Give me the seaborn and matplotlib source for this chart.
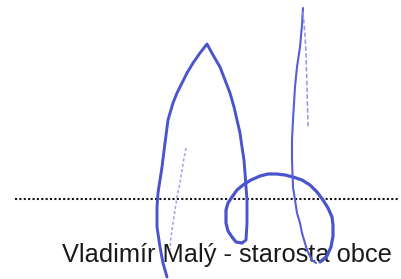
import pandas as pd
import matplotlib.pyplot as plt
import seaborn as sns

# pixel coordinates read from the scanned signature (y grows downward)
arch_x = [167, 163, 160, 157, 157, 158, 160, 162, 165, 168, 173, 177, 182, 187,
          193, 200, 207, 213, 220, 225, 230, 234, 237, 240, 242, 244, 245, 246,
          247, 247, 247, 246, 242]
arch_y = [277, 263, 247, 227, 207, 193, 180, 167, 143, 120, 103, 93, 83, 73,
          63, 53, 44, 55, 67, 80, 93, 107, 120, 133, 147, 160, 173, 187,
          200, 212, 223, 240, 243]

loop_x = [242, 236, 232, 228, 226, 226, 228, 232, 237, 243, 251, 260, 268, 277,
          285, 293, 302, 310, 317, 323, 328, 332, 333, 333, 331, 327, 320]
loop_y = [243, 242, 237, 231, 223, 210, 203, 197, 190, 185, 180, 176, 174, 174,
          175, 177, 180, 185, 192, 200, 208, 217, 225, 236, 247, 256, 262]

tall_x = [303, 302, 300, 297, 295, 293, 292, 292, 293, 295, 297, 300, 302, 307,
          312, 316]
tall_y = [8, 25, 47, 67, 87, 120, 140, 160, 187, 200, 213, 223, 233, 250,
          260, 263]

ghost_x = [303, 305, 306, 307, 308]
ghost_y = [12, 35, 53, 87, 127]

faint_x = [186, 184, 182, 180, 177, 175, 173, 171, 170]
faint_y = [148, 158, 170, 183, 197, 210, 223, 237, 250]

line_x = [15, 399]
line_y = [199, 199]

caption = "Vladimír Malý - starosta obce"

sns.set_style("white")
plt.rcParams['font.family'] = ['Liberation Sans', 'DejaVu Sans']

fig = plt.figure(figsize=(4.02, 2.79), dpi=100)
ax = fig.add_axes([0, 0, 1, 1])

ink = "#4a54cc"
sns.lineplot(x=arch_x, y=arch_y, sort=False, estimator=None, color=ink, lw=2.1, ax=ax)
sns.lineplot(x=loop_x, y=loop_y, sort=False, estimator=None, color=ink, lw=2.3, ax=ax)
sns.lineplot(x=tall_x, y=tall_y, sort=False, estimator=None, color="#5560d6", lw=1.5, ax=ax)
sns.lineplot(x=ghost_x, y=ghost_y, sort=False, estimator=None, color="#8f97e6",
             lw=1.1, linestyle=(0, (3, 1.5)), ax=ax)
sns.lineplot(x=faint_x, y=faint_y, sort=False, estimator=None, color="#9aa2ec",
             lw=1.1, linestyle=(0, (2, 1.5)), ax=ax)

# dotted signature line
ax.plot(line_x, line_y, color="#111111", lw=1.5, linestyle=(0, (1, 1.1)), zorder=1)

ax.text(62, 262, caption, fontsize=18.3, color="#1a1a1a", ha="left",
        va="baseline", zorder=0)

ax.set_xlim(0, 402)
ax.set_ylim(279, 0)
ax.axis("off")
plt.savefig("out.png", dpi=100)
plt.close()
